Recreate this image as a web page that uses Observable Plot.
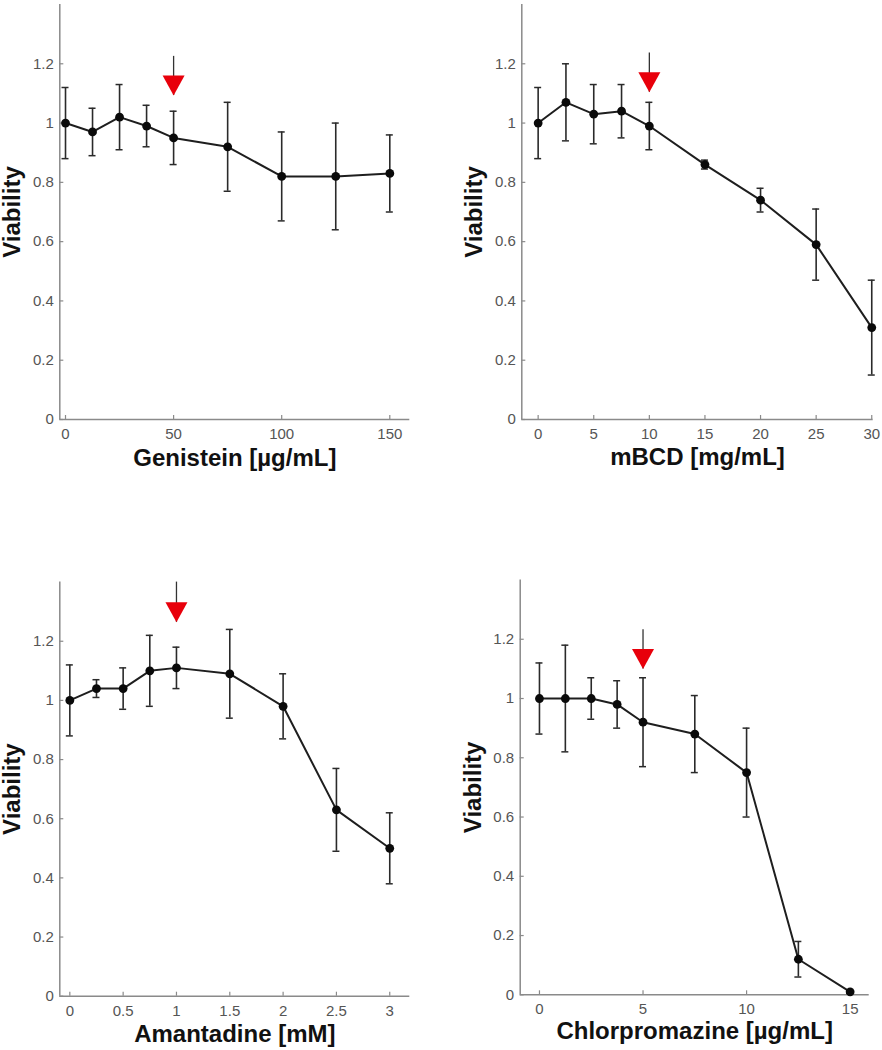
<!DOCTYPE html>
<html><head><meta charset="utf-8">
<script src="https://cdn.jsdelivr.net/npm/d3@7"></script>
<script src="https://cdn.jsdelivr.net/npm/@observablehq/plot@0.6"></script>
<style>
body{margin:0;background:#fff;}
#wrap{position:relative;width:882px;height:1050px;overflow:hidden;background:#fff;}
.panel{position:absolute;}
.panel svg{overflow:visible;}
</style></head><body><div id="wrap"></div>
<script>
// ---- data ----
const genisteinX = [0, 12.5, 25, 37.5, 50, 75, 100, 125, 150];
const genisteinY = [1.00, 0.97, 1.02, 0.99, 0.95, 0.92, 0.82, 0.82, 0.83];
const genisteinErr = [0.12, 0.08, 0.11, 0.07, 0.09, 0.15, 0.15, 0.18, 0.13];

const mbcdX = [0, 2.5, 5, 7.5, 10, 15, 20, 25, 30];
const mbcdY = [1.00, 1.07, 1.03, 1.04, 0.99, 0.86, 0.74, 0.59, 0.31];
const mbcdErr = [0.12, 0.13, 0.10, 0.09, 0.08, 0.015, 0.04, 0.12, 0.16];

const amantadineX = [0, 0.25, 0.5, 0.75, 1, 1.5, 2, 2.5, 3];
const amantadineY = [1.00, 1.04, 1.04, 1.10, 1.11, 1.09, 0.98, 0.63, 0.50];
const amantadineErr = [0.12, 0.03, 0.07, 0.12, 0.07, 0.15, 0.11, 0.14, 0.12];

const chlorX = [0, 1.25, 2.5, 3.75, 5, 7.5, 10, 12.5, 15];
const chlorY = [1.00, 1.00, 1.00, 0.98, 0.92, 0.88, 0.75, 0.12, 0.01];
const chlorErr = [0.12, 0.18, 0.07, 0.08, 0.15, 0.13, 0.15, 0.06, 0.005];

const yTicks = [0, 0.2, 0.4, 0.6, 0.8, 1, 1.2];
const yTickLabels = ["0", "0.2", "0.4", "0.6", "0.8", "1", "1.2"];
const xTicksGenistein = [0, 50, 100, 150];
const xTicksMbcd = [0, 5, 10, 15, 20, 25, 30];
const xTicksAmantadine = [0, 0.5, 1, 1.5, 2, 2.5, 3];
const xTicksChlor = [0, 5, 10, 15];

const xLabels = ["Genistein [\u00b5g/mL]", "mBCD [mg/mL]", "Amantadine [mM]", "Chlorpromazine [\u00b5g/mL]"];
const yLabel = "Viability";

const arrowX = [50, 10, 1, 5];
const arrowTop = [1.225, 1.236, 1.40, 1.232];
const arrowTip = [1.093, 1.104, 1.264, 1.10];

// ---- drawing ----
const FONT = "'Liberation Sans', Arial, Helvetica, sans-serif";
const arrowHead = {draw(ctx) { ctx.moveTo(0, 0); ctx.lineTo(-11, -20); ctx.lineTo(11, -20); ctx.closePath(); }};

const panels = [
  {xs: genisteinX, ys: genisteinY, es: genisteinErr, ticks: xTicksGenistein, xDomain: [-2.64, 159.25],
   left: 0, top: 0, width: 441, height: 470, ml: 59.3, mr: 31.7, mt: 4, mb: 51, labelDy: 46, k: 0},
  {xs: mbcdX, ys: mbcdY, es: mbcdErr, ticks: xTicksMbcd, xDomain: [-1.47, 30.13],
   left: 441, top: 0, width: 441, height: 470, ml: 80.3, mr: 9.3, mt: 4, mb: 51, labelDy: 45, k: 1},
  {xs: amantadineX, ys: amantadineY, es: amantadineErr, ticks: xTicksAmantadine, xDomain: [-0.094, 3.188],
   left: 0, top: 530, width: 441, height: 520, ml: 59.3, mr: 31.7, mt: 51.6, mb: 54.3, labelDy: 46, k: 2},
  {xs: chlorX, ys: chlorY, es: chlorErr, ticks: xTicksChlor, xDomain: [-0.93, 15.92],
   left: 441, top: 530, width: 441, height: 520, ml: 78.7, mr: 13.3, mt: 49.5, mb: 55.7, labelDy: 44, k: 3}
];

const wrap = document.getElementById("wrap");
for (const p of panels) {
  const data = p.xs.map((x, i) => ({x, y: p.ys[i], lo: p.ys[i] - p.es[i], hi: p.ys[i] + p.es[i]}));
  const fw = p.width - p.ml - p.mr;
  const fh = p.height - p.mt - p.mb;
  const arrow = [{x: arrowX[p.k], top: arrowTop[p.k], tip: arrowTip[p.k]}];
  const chart = Plot.plot({
    width: p.width, height: p.height,
    marginLeft: p.ml, marginRight: p.mr, marginTop: p.mt, marginBottom: p.mb,
    style: {fontFamily: FONT, fontSize: "15px", background: "transparent", overflow: "visible"},
    x: {domain: p.xDomain},
    y: {domain: [0, 1.4]},
    marks: [
      Plot.ruleX([p.xDomain[0]], {stroke: "#8a8a8a", strokeWidth: 1.5}),
      Plot.ruleY([0], {stroke: "#8a8a8a", strokeWidth: 1.5}),
      Plot.tickX(p.ticks, {x: d => d, insetTop: fh - 4, stroke: "#8a8a8a", strokeWidth: 1.2}),
      Plot.tickY(yTicks, {y: d => d, insetRight: fw - 4, stroke: "#8a8a8a", strokeWidth: 1.2}),
      Plot.axisX({ticks: p.ticks, tickSize: 0, tickPadding: 9, color: "#555", fontSize: 15, label: null,
                  tickFormat: d => String(d)}),
      Plot.axisY({ticks: yTicks, tickSize: 0, tickPadding: 6, color: "#555", fontSize: 15, label: null,
                  tickFormat: d => yTickLabels[yTicks.indexOf(d)]}),
      // error bars
      Plot.ruleX(data, {x: "x", y1: "lo", y2: "hi", stroke: "#2a2a2a", strokeWidth: 1.6}),
      Plot.ruleY(data, {y: "hi", x1: "x", x2: "x", insetLeft: -3.5, insetRight: -3.5, stroke: "#2a2a2a", strokeWidth: 1.5}),
      Plot.ruleY(data, {y: "lo", x1: "x", x2: "x", insetLeft: -3.5, insetRight: -3.5, stroke: "#2a2a2a", strokeWidth: 1.5}),
      // line + dots
      Plot.line(data, {x: "x", y: "y", stroke: "#1e1e1e", strokeWidth: 2}),
      Plot.dot(data, {x: "x", y: "y", r: 4.4, fill: "#0a0a0a", stroke: "none"}),
      // red arrow
      Plot.ruleX(arrow, {x: "x", y1: "tip", y2: "top", stroke: "#333", strokeWidth: 1.3}),
      Plot.dot(arrow, {x: "x", y: "tip", symbol: arrowHead, r: 8, fill: "#e8000b", stroke: "none"}),
      // labels
      Plot.text([xLabels[p.k]], {text: d => d, frameAnchor: "bottom", dy: p.labelDy, lineAnchor: "bottom",
                 fontSize: 24, fontWeight: "bold", fill: "#111"}),
      Plot.text([yLabel], {text: d => d, frameAnchor: "left", dx: -47, rotate: -90, lineAnchor: "middle",
                 textAnchor: "middle", fontSize: 24, fontWeight: "bold", fill: "#111"})
    ]
  });
  const div = document.createElement("div");
  div.className = "panel";
  div.style.left = p.left + "px";
  div.style.top = p.top + "px";
  div.appendChild(chart);
  wrap.appendChild(div);
}
</script></body></html>
